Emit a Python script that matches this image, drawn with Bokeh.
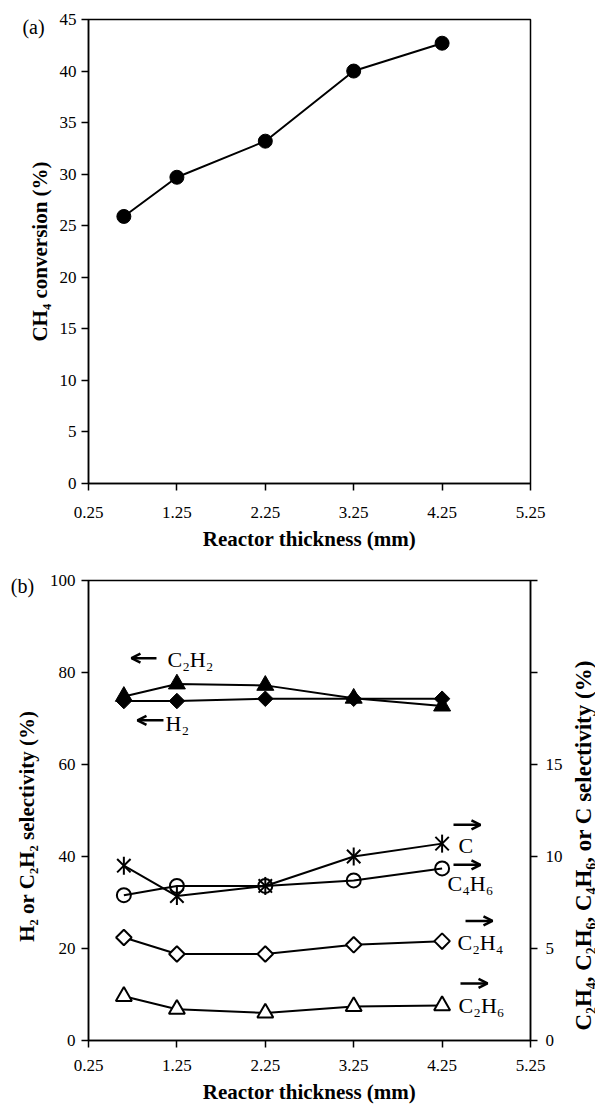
import numpy as np
from bokeh.plotting import figure
from bokeh.layouts import column
from bokeh.models import Range1d, LinearAxis, FixedTicker, Arrow, OpenHead, Label
from bokeh.embed import file_html
from bokeh.resources import INLINE

# ---------------- data ----------------
thickness = [0.65, 1.25, 2.25, 3.25, 4.25]
ch4_conversion = [25.9, 29.7, 33.2, 40.0, 42.7]

h2_sel = [73.8, 73.8, 74.3, 74.3, 74.3]
c2h2_sel = [74.8, 77.5, 77.2, 74.4, 72.7]

c_sel = [9.5, 7.85, 8.4, 10.0, 10.7]
c4h6_sel = [7.9, 8.4, 8.4, 8.7, 9.35]
c2h4_sel = [5.6, 4.7, 4.7, 5.2, 5.4]
c2h6_sel = [2.4, 1.7, 1.5, 1.85, 1.9]

x_ticks = [0.25, 1.25, 2.25, 3.25, 4.25, 5.25]
y_ticks_a = [0, 5, 10, 15, 20, 25, 30, 35, 40, 45]
y_ticks_b = [0, 20, 40, 60, 80, 100]
y_ticks_b_right = [0, 5, 10, 15, 20, 25]

FONT = "Liberation Serif"
EN = "\u2002"


def style_axis(ax, label_standoff=6, axis_standoff=10, label_size="21px"):
    ax.axis_line_color = "black"
    ax.axis_line_width = 1.5
    ax.major_tick_line_color = "black"
    ax.major_tick_line_width = 1.5
    ax.major_tick_out = 7
    ax.major_tick_in = 0
    ax.minor_tick_line_color = None
    ax.major_label_text_font = FONT
    ax.major_label_text_font_size = "17px"
    ax.major_label_text_color = "black"
    ax.major_label_standoff = label_standoff
    ax.axis_label_text_font = FONT
    ax.axis_label_text_font_size = label_size
    ax.axis_label_text_font_style = "bold"
    ax.axis_label_text_color = "black"
    ax.axis_label_standoff = axis_standoff


def base_fig(height, y_range, border_top, border_bottom):
    p = figure(width=595, height=height, x_range=Range1d(0.25, 5.25), y_range=y_range,
               output_backend="svg", toolbar_location=None,
               min_border_left=88, min_border_right=65,
               min_border_top=border_top, min_border_bottom=border_bottom)
    p.xgrid.visible = False
    p.ygrid.visible = False
    p.outline_line_color = "black"
    p.outline_line_width = 1.5
    p.background_fill_color = "white"
    p.border_fill_color = "white"
    p.xaxis.ticker = FixedTicker(ticks=x_ticks)
    p.xaxis.axis_label = "Reactor thickness (mm)"
    return p


def panel_label(text, x, y):
    return Label(x=x, y=y, text=text, text_font=FONT, text_font_size="20px",
                 text_align="center", text_baseline="middle", text_color="black")


# ---------------- (a) ----------------
p1 = base_fig(556, Range1d(0, 45), 19, 73)
p1.yaxis.ticker = FixedTicker(ticks=y_ticks_a)
p1.yaxis.axis_label = "CH\u2084 conversion (%)"
for ax in p1.xaxis:
    style_axis(ax, label_standoff=16, axis_standoff=6)
for ax in p1.yaxis:
    style_axis(ax, label_standoff=5, axis_standoff=5)

p1.line(thickness, ch4_conversion, line_color="black", line_width=2)
p1.scatter(thickness, ch4_conversion, marker="circle", size=14,
           fill_color="black", line_color="black")
p1.add_layout(panel_label("(a)", -0.372, 44.3), "left")

# ---------------- (b) ----------------
p2 = base_fig(554, Range1d(0, 100), 24, 70)
p2.extra_y_ranges = {"right": Range1d(0, 25)}
p2.yaxis.ticker = FixedTicker(ticks=y_ticks_b)
p2.yaxis.axis_label = "H\u2082 or C\u2082H\u2082 selectivity (%)" + EN * 3

right_label = "C\u2082H\u2084, C\u2082H\u2086, C\u2084H\u2086, or C selectivity (%)"
right_axis = LinearAxis(y_range_name="right", ticker=FixedTicker(ticks=y_ticks_b_right))
right_axis.major_label_overrides = {20: "", 25: ""}
p2.add_layout(right_axis, "right")
for ax in p2.xaxis:
    style_axis(ax, label_standoff=12, axis_standoff=6)
for ax in p2.yaxis:
    style_axis(ax, label_standoff=6, axis_standoff=8)
style_axis(right_axis, label_standoff=8, axis_standoff=1, label_size="23px")

# right-axis title, drawn in the right side panel (reads bottom to top)
p2.add_layout(Label(x=5.85, y=42.4, text=right_label, angle=np.pi / 2,
                    text_font=FONT, text_font_size="23px", text_font_style="bold",
                    text_align="center", text_baseline="middle", text_color="black"),
              "right")
p2.add_layout(panel_label("(b)", -0.497, 98.9), "above")

# left-axis series
p2.line(thickness, h2_sel, line_color="black", line_width=2)
p2.scatter(thickness, h2_sel, marker="square", angle=np.pi / 4, size=11,
           fill_color="black", line_color="black")
p2.line(thickness, c2h2_sel, line_color="black", line_width=2)
p2.scatter(thickness, c2h2_sel, marker="triangle", size=17,
           fill_color="black", line_color="black")

# right-axis series
p2.line(thickness, c_sel, y_range_name="right", line_color="black", line_width=2)
p2.scatter(thickness, c_sel, y_range_name="right", marker="x", size=19,
           line_color="black", line_width=2)
p2.scatter(thickness, c_sel, y_range_name="right", marker="dash", angle=np.pi / 2, size=18,
           line_color="black", line_width=2)

p2.line(thickness, c4h6_sel, y_range_name="right", line_color="black", line_width=2)
p2.scatter(thickness, c4h6_sel, y_range_name="right", marker="circle", size=14,
           fill_color="white", fill_alpha=0, line_color="black", line_width=2)

p2.line(thickness, c2h4_sel, y_range_name="right", line_color="black", line_width=2)
p2.scatter(thickness, c2h4_sel, y_range_name="right", marker="square", angle=np.pi / 4,
           size=11, fill_color="white", line_color="black", line_width=2)

p2.line(thickness, c2h6_sel, y_range_name="right", line_color="black", line_width=2)
p2.scatter(thickness, c2h6_sel, y_range_name="right", marker="triangle", size=16,
           fill_color="white", line_color="black", line_width=2)

# annotations: arrows (start x, end x, y) and texts (x, y) in left-axis data units
arrows = [
    (1.019, 0.736, 83.1),
    (1.098, 0.804, 69.6),
    (4.379, 4.684, 46.9),
    (4.379, 4.684, 38.2),
    (4.515, 4.820, 26.0),
    (4.458, 4.764, 12.4),
]
for xs, xe, yy in arrows:
    p2.add_layout(Arrow(end=OpenHead(size=9, line_width=2.5, line_color="black"),
                        x_start=xs, y_start=yy, x_end=xe, y_end=yy,
                        line_width=2.5, line_color="black"))

labels = [
    ("C\u2082H\u2082", 1.144, 82.9),
    ("H\u2082", 1.121, 69.0),
    ("C", 4.436, 42.3),
    ("C\u2084H\u2086", 4.311, 34.1),
    ("C\u2082H\u2084", 4.424, 21.3),
    ("C\u2082H\u2086", 4.436, 7.6),
]
for txt, xx, yy in labels:
    p2.add_layout(Label(x=xx, y=yy, text=txt, text_font=FONT, text_font_size="22px",
                        text_align="left", text_baseline="middle", text_color="black"))

layout = column(p1, p2)
open("out.html", "w").write(file_html(layout, INLINE))
